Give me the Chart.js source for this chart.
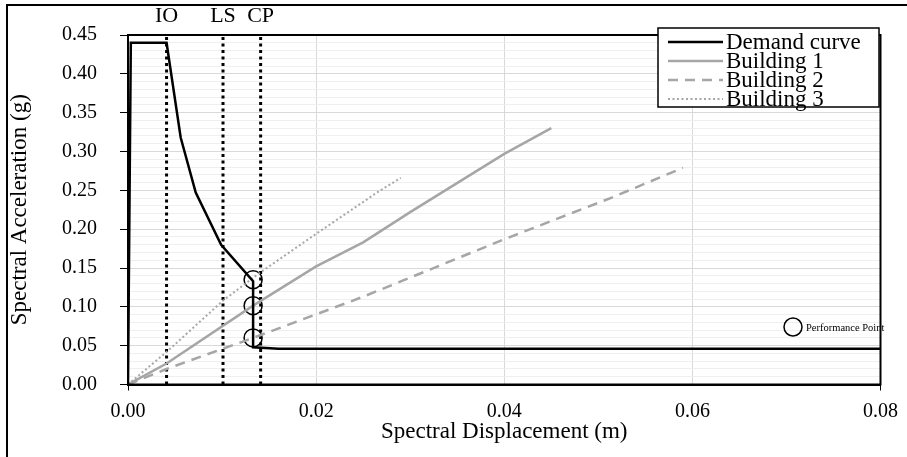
<!DOCTYPE html>
<html>
<head>
<meta charset="utf-8">
<script src="https://cdn.jsdelivr.net/npm/chart.js@4.4.0/dist/chart.umd.min.js"></script>
<style>
html, body { margin: 0; padding: 0; background: #fff; }
</style>
</head>
<body>
<canvas id="capChart" width="907" height="457"></canvas>
<script>
// demand spectrum in ADRS format (Sd in m, Sa in g)
const demandSd = [0, 0.0003, 0.0041, 0.0056, 0.0072, 0.0099, 0.0133, 0.0133, 0.016, 0.08];
const demandSa = [0, 0.44, 0.44, 0.318, 0.247, 0.18, 0.133, 0.048, 0.046, 0.046];

// capacity curves
const b1Sd = [0, 0.0041, 0.0133, 0.02, 0.025, 0.03, 0.04, 0.045];
const b1Sa = [0, 0.027, 0.1015, 0.152, 0.183, 0.222, 0.297, 0.33];
const b2Sd = [0, 0.0041, 0.0133, 0.025, 0.04, 0.0515, 0.059];
const b2Sa = [0, 0.02, 0.06, 0.113, 0.187, 0.241, 0.279];
const b3Sd = [0, 0.0042, 0.0101, 0.0138, 0.02, 0.0267, 0.029];
const b3Sa = [0, 0.043, 0.108, 0.142, 0.194, 0.249, 0.266];

// performance points
const perfSd = [0.0133, 0.0133, 0.0133];
const perfSa = [0.135, 0.1015, 0.06];

// damage limit states
const limitNames = ['IO', 'LS', 'CP'];
const limitSd = [0.0041, 0.0101, 0.0141];

const seriesNames = ['Demand curve', 'Building 1', 'Building 2', 'Building 3'];
const xTickStep = 0.02;

const serif = "'Liberation Serif', 'Times New Roman', serif";
const gray = '#a6a6a6';

function pts(xs, ys) {
  return xs.map((x, i) => ({ x: x, y: ys[i] }));
}

const datasets = [
  { label: seriesNames[0], data: pts(demandSd, demandSa), borderColor: '#000', borderWidth: 2.5, borderDash: [] },
  { label: seriesNames[1], data: pts(b1Sd, b1Sa), borderColor: gray, borderWidth: 2.5, borderDash: [] },
  { label: seriesNames[2], data: pts(b2Sd, b2Sa), borderColor: gray, borderWidth: 2.5, borderDash: [10, 7] },
  { label: seriesNames[3], data: pts(b3Sd, b3Sa), borderColor: gray, borderWidth: 2, borderDash: [2, 2.5] },
  {
    label: 'Performance Point', data: pts(perfSd, perfSa), showLine: false,
    pointRadius: 9, pointBorderColor: '#000', pointBorderWidth: 1.5, pointBackgroundColor: 'rgba(0,0,0,0)'
  }
];
limitSd.forEach(function (sd, i) {
  datasets.push({
    label: limitNames[i], data: [{ x: sd, y: 0 }, { x: sd, y: 0.45 }],
    borderColor: '#000', borderWidth: 3, borderDash: [3, 3.5]
  });
});
datasets.forEach(function (d) {
  d.fill = false;
  d.tension = 0;
  if (d.pointRadius === undefined) d.pointRadius = 0;
});

function isMajor(v) {
  return Math.abs(Math.round(v * 100) % 5) === 0;
}

// frame, legend box and limit-state labels
const decorations = {
  id: 'decorations',
  afterDraw(chart) {
    const ctx = chart.ctx;
    const a = chart.chartArea;
    const xs = chart.scales.x;
    ctx.save();

    // plot area box
    ctx.strokeStyle = '#000';
    ctx.lineWidth = 2;
    ctx.strokeRect(a.left, a.top, a.right - a.left, a.bottom - a.top);

    // outer figure frame (top and left edges only visible)
    ctx.beginPath();
    ctx.moveTo(7, 457);
    ctx.lineTo(7, 5);
    ctx.lineTo(907, 5);
    ctx.stroke();

    // IO / LS / CP labels
    ctx.fillStyle = '#000';
    ctx.font = '22px ' + serif;
    ctx.textAlign = 'center';
    ctx.textBaseline = 'alphabetic';
    limitNames.forEach(function (n, i) {
      ctx.fillText(n, xs.getPixelForValue(limitSd[i]), 22);
    });

    // legend
    const lx = 658, ly = 28, lw = 221, lh = 79;
    ctx.fillStyle = '#fff';
    ctx.fillRect(lx, ly, lw, lh);
    ctx.lineWidth = 1.5;
    ctx.strokeStyle = '#000';
    ctx.strokeRect(lx, ly, lw, lh);
    ctx.textAlign = 'left';
    ctx.textBaseline = 'middle';
    ctx.font = '23px ' + serif;
    for (let i = 0; i < 4; i++) {
      const ds = chart.data.datasets[i];
      const y = 42 + i * 19;
      ctx.beginPath();
      ctx.strokeStyle = ds.borderColor;
      ctx.lineWidth = ds.borderWidth;
      ctx.setLineDash(ds.borderDash);
      ctx.moveTo(668, y);
      ctx.lineTo(723, y);
      ctx.stroke();
      ctx.setLineDash([]);
      ctx.fillStyle = '#000';
      ctx.fillText(ds.label, 726, y + 1);
    }

    // performance point key
    ctx.beginPath();
    ctx.strokeStyle = '#000';
    ctx.lineWidth = 1.5;
    ctx.arc(793, 377 - 50, 9, 0, Math.PI * 2);
    ctx.stroke();
    ctx.font = '10.5px ' + serif;
    ctx.fillText('Performance Point', 806, 328);
    ctx.restore();
  }
};

new Chart(document.getElementById('capChart').getContext('2d'), {
  type: 'line',
  data: { datasets: datasets },
  plugins: [decorations],
  options: {
    responsive: false,
    animation: false,
    devicePixelRatio: 1,
    layout: { padding: { left: 0, top: 24, right: 25, bottom: 0 } },
    plugins: { legend: { display: false }, tooltip: { enabled: false } },
    scales: {
      x: {
        type: 'linear', min: 0, max: 0.08,
        afterFit: function (s) { s.height = 72.5; },
        ticks: {
          stepSize: xTickStep, color: '#000', padding: 9,
          font: { family: serif, size: 20 },
          callback: function (v) { return v.toFixed(2); }
        },
        grid: {
          color: '#d9d9d9', lineWidth: 1, tickLength: 6,
          tickColor: function (c) {
            return (c.tick && (c.tick.value === 0 || Math.abs(c.tick.value - 0.08) < 1e-9)) ? '#000' : 'rgba(0,0,0,0)';
          }
        },
        border: { color: '#000', width: 2 },
        title: {
          display: true, text: 'Spectral Displacement (m)', color: '#000',
          font: { family: serif, size: 23 }, padding: { top: 0, bottom: 11 }
        }
      },
      y: {
        type: 'linear', min: 0, max: 0.45,
        afterFit: function (s) { s.width = 128; },
        ticks: {
          stepSize: 0.01, autoSkip: false, color: '#000', padding: 23,
          font: { family: serif, size: 20 },
          callback: function (v) { return isMajor(v) ? v.toFixed(2) : ''; }
        },
        grid: {
          lineWidth: 1, tickLength: 8,
          color: function (c) { return isMajor(c.tick.value) ? '#d9d9d9' : '#efefef'; },
          tickColor: function (c) { return isMajor(c.tick.value) ? '#000' : 'rgba(0,0,0,0)'; }
        },
        border: { color: '#000', width: 2 },
        title: {
          display: true, text: 'Spectral Acceleration (g)', color: '#000',
          font: { family: serif, size: 23 }, padding: { top: 6, bottom: 0 }
        }
      }
    }
  }
});
</script>
</body>
</html>
